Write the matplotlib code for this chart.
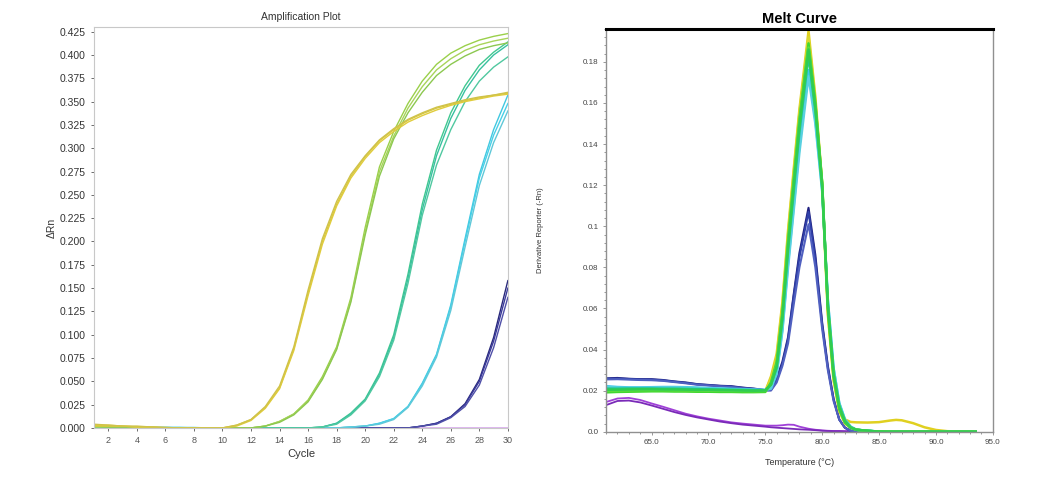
import numpy as np
import matplotlib
matplotlib.use('Agg')
from matplotlib import pyplot as plt
from matplotlib.ticker import MultipleLocator

plt.rcParams['font.family'] = ['Liberation Sans', 'DejaVu Sans']

# ---- amplification plot data (delta Rn per cycle) ----
CYCLES = list(range(1, 31))

amp_yellow_1 = [0.003, 0.003, 0.002, 0.001, 0.001, 0.0005, 0, 0, 0, 0, 0.003, 0.009, 0.022, 0.043, 0.085,
                0.145, 0.200, 0.240, 0.270, 0.291, 0.308, 0.320, 0.330, 0.337, 0.343, 0.347, 0.351, 0.354, 0.357, 0.359]
amp_yellow_2 = [0.002, 0.002, 0.002, 0.001, 0.001, 0, 0, 0, 0, 0, 0.002, 0.008, 0.021, 0.042, 0.083,
                0.142, 0.197, 0.238, 0.268, 0.289, 0.306, 0.318, 0.328, 0.335, 0.341, 0.346, 0.350, 0.353, 0.356, 0.358]
amp_yellow_3 = [0.004, 0.003, 0.002, 0.002, 0.001, 0.0005, 0, 0, 0, 0, 0.003, 0.009, 0.023, 0.045, 0.087,
                0.148, 0.203, 0.243, 0.272, 0.292, 0.309, 0.321, 0.331, 0.338, 0.344, 0.348, 0.352, 0.355, 0.357, 0.360]

amp_green_1 = [0.002, 0.002, 0.001, 0.001, 0.0005, 0, 0, 0, 0, 0, 0, 0, 0.002, 0.007, 0.015,
               0.030, 0.055, 0.087, 0.140, 0.215, 0.280, 0.318, 0.348, 0.372, 0.390, 0.402, 0.410, 0.416, 0.420, 0.423]
amp_green_2 = [0.001, 0.001, 0.001, 0.0005, 0, 0, 0, 0, 0, 0, 0, 0, 0.002, 0.007, 0.015,
               0.029, 0.053, 0.085, 0.137, 0.210, 0.275, 0.313, 0.343, 0.366, 0.384, 0.396, 0.405, 0.411, 0.415, 0.418]
amp_green_3 = [0.002, 0.001, 0.001, 0.001, 0.0005, 0, 0, 0, 0, 0, 0, 0, 0.002, 0.006, 0.014,
               0.028, 0.052, 0.084, 0.135, 0.207, 0.270, 0.310, 0.338, 0.360, 0.378, 0.390, 0.399, 0.406, 0.410, 0.413]

amp_teal_1 = [0.001, 0.001, 0.0005, 0, 0, 0, 0, 0, 0, 0, 0, 0, 0, 0, 0,
              0, 0.001, 0.005, 0.016, 0.031, 0.059, 0.100, 0.165, 0.240, 0.298, 0.338, 0.367, 0.389, 0.403, 0.414]
amp_teal_2 = [0.001, 0.0005, 0, 0, 0, 0, 0, 0, 0, 0, 0, 0, 0, 0, 0,
              0, 0.001, 0.005, 0.015, 0.030, 0.057, 0.097, 0.160, 0.234, 0.292, 0.332, 0.362, 0.384, 0.400, 0.411]
amp_teal_3 = [0.001, 0.001, 0.0005, 0, 0, 0, 0, 0, 0, 0, 0, 0, 0, 0, 0,
              0, 0.001, 0.004, 0.014, 0.029, 0.055, 0.094, 0.155, 0.228, 0.282, 0.320, 0.350, 0.372, 0.387, 0.398]

amp_cyan_1 = [0.001, 0.001, 0.001, 0.001, 0.0005, 0.0005, 0.0005, 0.0005, 0, 0, 0, 0, 0, 0, 0,
              0, 0, 0, 0.001, 0.002, 0.005, 0.010, 0.023, 0.048, 0.079, 0.132, 0.203, 0.272, 0.320, 0.357]
amp_cyan_2 = [0.001, 0.001, 0.0005, 0.0005, 0.0005, 0.0005, 0.0005, 0, 0, 0, 0, 0, 0, 0, 0,
              0, 0, 0, 0.001, 0.002, 0.005, 0.010, 0.023, 0.047, 0.078, 0.130, 0.200, 0.268, 0.314, 0.348]
amp_cyan_3 = [0.001, 0.001, 0.001, 0.0005, 0.0005, 0.0005, 0, 0, 0, 0, 0, 0, 0, 0, 0,
              0, 0, 0, 0.001, 0.002, 0.004, 0.009, 0.022, 0.045, 0.076, 0.126, 0.194, 0.260, 0.306, 0.340]

amp_navy_1 = [0, 0, 0, 0, 0, 0, 0, 0, 0, 0, 0, 0, 0, 0, 0,
              0, 0, 0, 0, 0, 0, 0, 0, 0.002, 0.005, 0.012, 0.026, 0.052, 0.097, 0.158]
amp_navy_2 = [0, 0, 0, 0, 0, 0, 0, 0, 0, 0, 0, 0, 0, 0, 0,
              0, 0, 0, 0, 0, 0, 0, 0, 0.002, 0.005, 0.012, 0.025, 0.050, 0.093, 0.150]
amp_navy_3 = [0, 0, 0, 0, 0, 0, 0, 0, 0, 0, 0, 0, 0, 0, 0,
              0, 0, 0, 0, 0, 0, 0, 0, 0.002, 0.004, 0.011, 0.023, 0.046, 0.086, 0.140]

amp_purple_1 = [0] * 30
amp_purple_2 = [0] * 30

AMP_CURVES = [
    (amp_purple_1, '#9a30d0'), (amp_purple_2, '#b040e0'),
    (amp_navy_1, '#28287a'), (amp_navy_2, '#3a3a9a'), (amp_navy_3, '#5050a8'),
    (amp_cyan_1, '#40c8e0'), (amp_cyan_2, '#48d0e8'), (amp_cyan_3, '#60c8d8'),
    (amp_teal_1, '#40c890'), (amp_teal_2, '#38c0a0'), (amp_teal_3, '#50c8a0'),
    (amp_green_1, '#9ad04a'), (amp_green_2, '#a8d45a'), (amp_green_3, '#8cc850'),
    (amp_yellow_1, '#d8c840'), (amp_yellow_2, '#e0cc3c'), (amp_yellow_3, '#cfc24a'),
]

# ---- melt curve data (derivative reporter vs temperature) ----
MELT_T = [61, 62, 63, 64, 65, 66, 67, 68, 69, 70, 71, 72, 73, 74, 75,
          75.5, 76, 76.5, 77, 77.5, 78, 78.8,
          79.4, 80, 80.5, 81, 81.5, 82, 82.5, 83,
          84, 85, 86, 86.5, 87, 88, 89, 90, 91, 92, 93, 93.5]

melt_yellow_1 = [0.0198, 0.0198, 0.0199, 0.0200, 0.0200, 0.0201, 0.0200, 0.0199, 0.0198, 0.0198, 0.0197, 0.0197, 0.0196, 0.0196, 0.0197,
                 0.027, 0.038, 0.063, 0.098, 0.128, 0.157, 0.195,
                 0.163, 0.121, 0.058, 0.026, 0.011, 0.006, 0.0048, 0.0046,
                 0.0045, 0.0047, 0.0055, 0.0058, 0.0056, 0.0042, 0.0022, 0.0009, 0.0003, 0.0001, 0, 0]
melt_yellow_2 = [0.0201, 0.0202, 0.0202, 0.0203, 0.0203, 0.0202, 0.0202, 0.0201, 0.0200, 0.0200, 0.0199, 0.0199, 0.0198, 0.0198, 0.0199,
                 0.026, 0.036, 0.061, 0.096, 0.126, 0.155, 0.192,
                 0.161, 0.120, 0.057, 0.025, 0.010, 0.004, 0.002, 0.001,
                 0.0004, 0.0001, 0, 0, 0, 0, 0, 0, 0, 0, 0, 0]
melt_green_1 = [0.0192, 0.0194, 0.0195, 0.0196, 0.0197, 0.0197, 0.0196, 0.0196, 0.0195, 0.0195, 0.0194, 0.0194, 0.0193, 0.0193, 0.0194,
                0.024, 0.034, 0.058, 0.093, 0.123, 0.152, 0.189,
                0.160, 0.121, 0.060, 0.027, 0.011, 0.0045, 0.002, 0.001,
                0.0004, 0.0001, 0, 0, 0, 0, 0, 0, 0, 0, 0, 0]
melt_green_2 = [0.0200, 0.0201, 0.0202, 0.0203, 0.0203, 0.0203, 0.0202, 0.0202, 0.0201, 0.0200, 0.0200, 0.0199, 0.0199, 0.0198, 0.0199,
                0.023, 0.033, 0.057, 0.092, 0.122, 0.151, 0.187,
                0.159, 0.121, 0.061, 0.028, 0.012, 0.005, 0.002, 0.001,
                0.0004, 0.0001, 0, 0, 0, 0, 0, 0, 0, 0, 0, 0]
melt_green_3 = [0.0205, 0.0205, 0.0206, 0.0207, 0.0207, 0.0206, 0.0206, 0.0205, 0.0204, 0.0204, 0.0203, 0.0202, 0.0201, 0.0200, 0.0201,
                0.023, 0.032, 0.056, 0.090, 0.120, 0.149, 0.186,
                0.158, 0.120, 0.061, 0.028, 0.012, 0.005, 0.002, 0.001,
                0.0005, 0.0001, 0, 0, 0, 0, 0, 0, 0, 0, 0, 0]
melt_teal_1 = [0.0210, 0.0210, 0.0211, 0.0211, 0.0211, 0.0210, 0.0210, 0.0209, 0.0208, 0.0207, 0.0206, 0.0205, 0.0204, 0.0202, 0.0202,
               0.023, 0.031, 0.054, 0.088, 0.117, 0.146, 0.183,
               0.156, 0.119, 0.062, 0.029, 0.013, 0.0055, 0.0022, 0.001,
               0.0005, 0.0001, 0, 0, 0, 0, 0, 0, 0, 0, 0, 0]
melt_cyan_1 = [0.0222, 0.0218, 0.0216, 0.0216, 0.0217, 0.0218, 0.0218, 0.0217, 0.0215, 0.0213, 0.0211, 0.0209, 0.0207, 0.0205, 0.0204,
               0.022, 0.029, 0.050, 0.082, 0.110, 0.139, 0.176,
               0.152, 0.118, 0.064, 0.031, 0.014, 0.006, 0.0025, 0.001,
               0.0005, 0.0001, 0, 0, 0, 0, 0, 0, 0, 0, 0, 0]
melt_cyan_2 = [0.0218, 0.0215, 0.0214, 0.0214, 0.0215, 0.0216, 0.0216, 0.0215, 0.0213, 0.0211, 0.0209, 0.0207, 0.0205, 0.0204, 0.0203,
               0.021, 0.028, 0.049, 0.080, 0.108, 0.136, 0.173,
               0.150, 0.117, 0.064, 0.031, 0.014, 0.006, 0.0025, 0.001,
               0.0005, 0.0001, 0, 0, 0, 0, 0, 0, 0, 0, 0, 0]
melt_navy_1 = [0.0260, 0.0262, 0.0258, 0.0256, 0.0256, 0.0252, 0.0245, 0.0240, 0.0232, 0.0228, 0.0224, 0.0222, 0.0215, 0.0210, 0.0203,
               0.0205, 0.026, 0.034, 0.046, 0.067, 0.087, 0.109,
               0.086, 0.053, 0.032, 0.016, 0.006, 0.002, 0.0005, 0.0002,
               0, 0, 0, 0, 0, 0, 0, 0, 0, 0, 0, 0]
melt_navy_2 = [0.0258, 0.0259, 0.0257, 0.0255, 0.0254, 0.0250, 0.0244, 0.0238, 0.0231, 0.0227, 0.0223, 0.0220, 0.0214, 0.0209, 0.0202,
               0.0203, 0.025, 0.033, 0.045, 0.066, 0.085, 0.107,
               0.084, 0.052, 0.031, 0.016, 0.006, 0.002, 0.0005, 0.0002,
               0, 0, 0, 0, 0, 0, 0, 0, 0, 0, 0, 0]
melt_navy_3 = [0.0255, 0.0256, 0.0254, 0.0252, 0.0251, 0.0248, 0.0242, 0.0236, 0.0229, 0.0225, 0.0221, 0.0218, 0.0212, 0.0207, 0.0201,
               0.0201, 0.024, 0.032, 0.043, 0.062, 0.080, 0.101,
               0.080, 0.050, 0.030, 0.015, 0.006, 0.002, 0.0005, 0.0002,
               0, 0, 0, 0, 0, 0, 0, 0, 0, 0, 0, 0]
melt_purple_1 = [0.0145, 0.0162, 0.0165, 0.0155, 0.0138, 0.0122, 0.0105, 0.0088, 0.0075, 0.0064, 0.0055, 0.0046, 0.0040, 0.0035, 0.0030,
                 0.0030, 0.0030, 0.0032, 0.0035, 0.0034, 0.0025, 0.0015,
                 0.0010, 0.0007, 0.0005, 0.0004, 0.0004, 0.0003, 0.0003, 0.0003,
                 0.0002, 0.0002, 0.0002, 0.0002, 0.0002, 0.0001, 0.0001, 0.0001, 0.0001, 0, 0, 0]
melt_purple_2 = [0.0130, 0.0150, 0.0152, 0.0143, 0.0128, 0.0112, 0.0096, 0.0082, 0.0070, 0.0060, 0.0050, 0.0042, 0.0035, 0.0030, 0.0025,
                 0.0022, 0.0020, 0.0018, 0.0016, 0.0014, 0.0012, 0.0010,
                 0.0008, 0.0005, 0.0004, 0.0003, 0.0003, 0.0002, 0.0002, 0.0002,
                 0.0002, 0.0001, 0.0001, 0.0001, 0.0001, 0.0001, 0.0001, 0, 0, 0, 0, 0]

MELT_CURVES = [
    (melt_purple_1, '#a040d8', 1.3), (melt_purple_2, '#7a2ab8', 1.3),
    (melt_navy_1, '#202080', 1.5), (melt_navy_2, '#3040a8', 1.5), (melt_navy_3, '#5060c0', 1.5),
    (melt_yellow_1, '#e0d020', 1.8), (melt_yellow_2, '#d8d830', 1.8),
    (melt_cyan_1, '#40c8e8', 1.8), (melt_cyan_2, '#58d0e0', 1.8),
    (melt_teal_1, '#20c890', 1.8),
    (melt_green_1, '#40d830', 1.8), (melt_green_2, '#60dc40', 1.8), (melt_green_3, '#30cc50', 1.8),
]

AMP_YTICKS = [0.0, 0.025, 0.05, 0.075, 0.1, 0.125, 0.15, 0.175, 0.2, 0.225, 0.25, 0.275, 0.3, 0.325, 0.35, 0.375, 0.4, 0.425]
AMP_XTICKS = list(range(2, 31, 2))
MELT_YTICKS = [0.0, 0.02, 0.04, 0.06, 0.08, 0.1, 0.12, 0.14, 0.16, 0.18]
MELT_YLABELS = ['0.0', '0.02', '0.04', '0.06', '0.08', '0.1', '0.12', '0.14', '0.16', '0.18']
MELT_XTICKS = [65, 70, 75, 80, 85, 90, 95]

fig = plt.figure(figsize=(10.45, 4.83), dpi=100)

# left: amplification plot
ax1 = fig.add_axes([0.090, 0.114, 0.396, 0.830])
for vals, col in AMP_CURVES:
    ax1.plot(CYCLES, vals, color=col, lw=1.0)
ax1.set_xlim(1, 30)
ax1.set_ylim(0, 0.43)
ax1.set_yticks(AMP_YTICKS)
ax1.set_yticklabels(['%.3f' % v for v in AMP_YTICKS])
ax1.set_xticks(AMP_XTICKS)
for s in ax1.spines.values():
    s.set_color('#c8c8c8')
ax1.tick_params(colors='#555555', labelcolor='#333333', labelsize=7.5, length=2.5, width=0.6)
ax1.tick_params(axis='x', labelsize=6.5, labelcolor='#555555')
ax1.set_title('Amplification Plot', fontsize=7.5, color='#333333', pad=5)
ax1.set_xlabel('Cycle', fontsize=8, color='#333333', labelpad=3)
ax1.set_ylabel('ΔRn', fontsize=7.5, color='#333333', labelpad=2)

# right: melt curve
ax2 = fig.add_axes([0.580, 0.106, 0.370, 0.834])
for vals, col, w in MELT_CURVES:
    ax2.plot(MELT_T, vals, color=col, lw=w)
ax2.set_xlim(61, 95)
ax2.set_ylim(0, 0.196)
ax2.set_yticks(MELT_YTICKS)
ax2.set_yticklabels(MELT_YLABELS)
ax2.set_xticks(MELT_XTICKS)
ax2.set_xticklabels(['%.1f' % v for v in MELT_XTICKS])
ax2.xaxis.set_minor_locator(MultipleLocator(1))
ax2.yaxis.set_minor_locator(MultipleLocator(0.004))
for side in ['left', 'bottom', 'right']:
    ax2.spines[side].set_color('#909090')
    ax2.spines[side].set_linewidth(1.0)
ax2.spines['top'].set_color('black')
ax2.spines['top'].set_linewidth(2.2)
ax2.tick_params(which='both', colors='#888888', labelcolor='#444444', labelsize=5.8, length=2, width=0.6)
ax2.tick_params(which='minor', length=1.5)
ax2.set_title('Melt Curve', fontsize=10.5, fontweight='bold', pad=4)
ax2.set_xlabel('Temperature (°C)', fontsize=6.5, color='#333333', labelpad=8)
ax2.set_ylabel('Derivative Reporter (-Rn)', fontsize=5.5, color='#333333', labelpad=28)

fig.savefig('out.png', dpi=100)
